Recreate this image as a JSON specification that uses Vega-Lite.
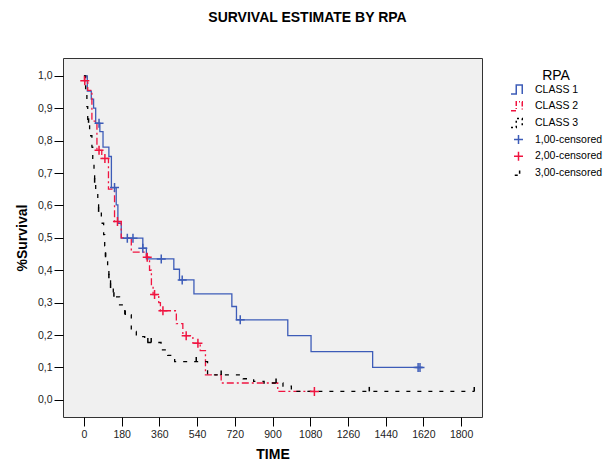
{
  "$schema": "https://vega.github.io/schema/vega-lite/v6.json",
  "width": 419,
  "height": 359,
  "autosize": "none",
  "padding": {"left": 63, "top": 58, "right": 133, "bottom": 51},
  "background": "white",
  "title": {"text": "SURVIVAL ESTIMATE BY RPA", "fontSize": 14, "fontWeight": "bold", "font": "Liberation Sans", "color": "#000", "anchor": "middle", "dx": 35, "offset": 33},
  "datasets": {
    "curves": [
      {"series": "CLASS 1", "t": 0, "s": 1.0},
      {"series": "CLASS 1", "t": 16, "s": 0.953},
      {"series": "CLASS 1", "t": 35, "s": 0.928},
      {"series": "CLASS 1", "t": 46, "s": 0.9},
      {"series": "CLASS 1", "t": 56, "s": 0.854},
      {"series": "CLASS 1", "t": 76, "s": 0.828},
      {"series": "CLASS 1", "t": 91, "s": 0.78},
      {"series": "CLASS 1", "t": 119, "s": 0.751},
      {"series": "CLASS 1", "t": 131, "s": 0.655},
      {"series": "CLASS 1", "t": 154, "s": 0.602},
      {"series": "CLASS 1", "t": 162, "s": 0.545},
      {"series": "CLASS 1", "t": 178, "s": 0.499},
      {"series": "CLASS 1", "t": 281, "s": 0.468},
      {"series": "CLASS 1", "t": 298, "s": 0.435},
      {"series": "CLASS 1", "t": 429, "s": 0.403},
      {"series": "CLASS 1", "t": 456, "s": 0.37},
      {"series": "CLASS 1", "t": 525, "s": 0.327},
      {"series": "CLASS 1", "t": 706, "s": 0.288},
      {"series": "CLASS 1", "t": 728, "s": 0.247},
      {"series": "CLASS 1", "t": 973, "s": 0.198},
      {"series": "CLASS 1", "t": 1084, "s": 0.149},
      {"series": "CLASS 1", "t": 1378, "s": 0.1},
      {"series": "CLASS 1", "t": 1617, "s": 0.1},
      {"series": "CLASS 2", "t": 0, "s": 1.0},
      {"series": "CLASS 2", "t": 2, "s": 0.985},
      {"series": "CLASS 2", "t": 18, "s": 0.955},
      {"series": "CLASS 2", "t": 38, "s": 0.86},
      {"series": "CLASS 2", "t": 62, "s": 0.77},
      {"series": "CLASS 2", "t": 85, "s": 0.745},
      {"series": "CLASS 2", "t": 117, "s": 0.65},
      {"series": "CLASS 2", "t": 146, "s": 0.55},
      {"series": "CLASS 2", "t": 178, "s": 0.5},
      {"series": "CLASS 2", "t": 226, "s": 0.456},
      {"series": "CLASS 2", "t": 298, "s": 0.44},
      {"series": "CLASS 2", "t": 313, "s": 0.4},
      {"series": "CLASS 2", "t": 322, "s": 0.35},
      {"series": "CLASS 2", "t": 330, "s": 0.325},
      {"series": "CLASS 2", "t": 357, "s": 0.3},
      {"series": "CLASS 2", "t": 365, "s": 0.275},
      {"series": "CLASS 2", "t": 441, "s": 0.235},
      {"series": "CLASS 2", "t": 472, "s": 0.198},
      {"series": "CLASS 2", "t": 520, "s": 0.175},
      {"series": "CLASS 2", "t": 555, "s": 0.152},
      {"series": "CLASS 2", "t": 580, "s": 0.077},
      {"series": "CLASS 2", "t": 655, "s": 0.052},
      {"series": "CLASS 2", "t": 925, "s": 0.026},
      {"series": "CLASS 2", "t": 1100, "s": 0.026},
      {"series": "CLASS 3", "t": 0, "s": 1.0},
      {"series": "CLASS 3", "t": 8, "s": 0.95},
      {"series": "CLASS 3", "t": 14, "s": 0.905},
      {"series": "CLASS 3", "t": 18, "s": 0.855},
      {"series": "CLASS 3", "t": 27, "s": 0.815},
      {"series": "CLASS 3", "t": 38, "s": 0.78},
      {"series": "CLASS 3", "t": 42, "s": 0.745},
      {"series": "CLASS 3", "t": 48, "s": 0.71},
      {"series": "CLASS 3", "t": 51, "s": 0.67},
      {"series": "CLASS 3", "t": 56, "s": 0.64},
      {"series": "CLASS 3", "t": 66, "s": 0.61},
      {"series": "CLASS 3", "t": 70, "s": 0.58},
      {"series": "CLASS 3", "t": 83, "s": 0.545},
      {"series": "CLASS 3", "t": 94, "s": 0.51},
      {"series": "CLASS 3", "t": 99, "s": 0.475},
      {"series": "CLASS 3", "t": 103, "s": 0.44},
      {"series": "CLASS 3", "t": 113, "s": 0.41},
      {"series": "CLASS 3", "t": 119, "s": 0.375},
      {"series": "CLASS 3", "t": 127, "s": 0.345},
      {"series": "CLASS 3", "t": 140, "s": 0.318},
      {"series": "CLASS 3", "t": 170, "s": 0.293},
      {"series": "CLASS 3", "t": 195, "s": 0.262},
      {"series": "CLASS 3", "t": 226, "s": 0.211},
      {"series": "CLASS 3", "t": 250, "s": 0.195},
      {"series": "CLASS 3", "t": 290, "s": 0.177},
      {"series": "CLASS 3", "t": 368, "s": 0.154},
      {"series": "CLASS 3", "t": 400, "s": 0.137},
      {"series": "CLASS 3", "t": 433, "s": 0.118},
      {"series": "CLASS 3", "t": 590, "s": 0.077},
      {"series": "CLASS 3", "t": 760, "s": 0.065},
      {"series": "CLASS 3", "t": 810, "s": 0.057},
      {"series": "CLASS 3", "t": 860, "s": 0.052},
      {"series": "CLASS 3", "t": 950, "s": 0.042},
      {"series": "CLASS 3", "t": 990, "s": 0.026},
      {"series": "CLASS 3", "t": 1863, "s": 0.026}
    ],
    "censored": [
      {"series": "1,00-censored", "t": 72, "s": 0.854},
      {"series": "1,00-censored", "t": 146, "s": 0.655},
      {"series": "1,00-censored", "t": 207, "s": 0.499},
      {"series": "1,00-censored", "t": 234, "s": 0.499},
      {"series": "1,00-censored", "t": 281, "s": 0.468},
      {"series": "1,00-censored", "t": 369, "s": 0.435},
      {"series": "1,00-censored", "t": 469, "s": 0.37},
      {"series": "1,00-censored", "t": 746, "s": 0.247},
      {"series": "1,00-censored", "t": 1595, "s": 0.1},
      {"series": "1,00-censored", "t": 1604, "s": 0.1},
      {"series": "2,00-censored", "t": 4, "s": 0.985},
      {"series": "2,00-censored", "t": 72, "s": 0.77},
      {"series": "2,00-censored", "t": 100, "s": 0.745},
      {"series": "2,00-censored", "t": 160, "s": 0.55},
      {"series": "2,00-censored", "t": 302, "s": 0.44},
      {"series": "2,00-censored", "t": 337, "s": 0.325},
      {"series": "2,00-censored", "t": 377, "s": 0.275},
      {"series": "2,00-censored", "t": 488, "s": 0.198},
      {"series": "2,00-censored", "t": 544, "s": 0.175},
      {"series": "2,00-censored", "t": 1100, "s": 0.026},
      {"series": "3,00-censored", "t": 22, "s": 0.855},
      {"series": "3,00-censored", "t": 51, "s": 0.67},
      {"series": "3,00-censored", "t": 70, "s": 0.58},
      {"series": "3,00-censored", "t": 103, "s": 0.44},
      {"series": "3,00-censored", "t": 119, "s": 0.375},
      {"series": "3,00-censored", "t": 127, "s": 0.345},
      {"series": "3,00-censored", "t": 143, "s": 0.318},
      {"series": "3,00-censored", "t": 197, "s": 0.262},
      {"series": "3,00-censored", "t": 305, "s": 0.177},
      {"series": "3,00-censored", "t": 321, "s": 0.177},
      {"series": "3,00-censored", "t": 536, "s": 0.118},
      {"series": "3,00-censored", "t": 655, "s": 0.077},
      {"series": "3,00-censored", "t": 917, "s": 0.052},
      {"series": "3,00-censored", "t": 1362, "s": 0.026},
      {"series": "3,00-censored", "t": 1863, "s": 0.026}
    ]
  },
  "encoding": {
    "x": {"field": "t", "type": "quantitative", "title": "TIME",
      "scale": {"domain": [-100, 1900], "nice": false, "zero": false},
      "axis": {"values": [0, 180, 360, 540, 720, 900, 1080, 1260, 1440, 1620, 1800], "format": "d"}},
    "y": {"field": "s", "type": "quantitative", "title": "%Survival",
      "scale": {"domain": [-0.053, 1.055], "nice": false, "zero": false},
      "axis": {"values": [0, 0.1, 0.2, 0.3, 0.4, 0.5, 0.6, 0.7, 0.8, 0.9, 1.0],
        "labelExpr": "replace(format(datum.value, '.1f'), '.', ',')"}},
    "color": {"field": "series", "type": "nominal",
      "scale": {"domain": ["CLASS 1", "CLASS 2", "CLASS 3", "1,00-censored", "2,00-censored", "3,00-censored"],
        "range": ["#3d5cb8", "#f01440", "#000000", "#3d5cb8", "#f01440", "#000000"]},
      "legend": {"title": "RPA", "orient": "none", "legendX": 447, "legendY": 11,
        "titleAnchor": "middle", "titleFontSize": 14, "titleFontWeight": "normal", "titleColor": "#000", "titleFont": "Liberation Sans",
        "titlePadding": -2, "labelFontSize": 10.5, "labelColor": "#000", "labelFont": "Liberation Sans", "labelOffset": 8,
        "symbolSize": 225, "rowPadding": 0.7, "padding": 0,
        "encode": {"symbols": {"update": {
          "shape": {"signal": "indexof(['CLASS 1','CLASS 2','CLASS 3'], datum.value) >= 0 ? 'M-1,0.6H-0.3V-0.6H0.5V0.6' : (datum.value == '3,00-censored' ? 'M-0.5,0.3H-0.1M0.15,-0.35V0.1' : 'M-0.6,0H0.6M0,-0.6V0.6')"},
          "strokeDash": {"signal": "datum.value == 'CLASS 2' ? [5,2,1,2] : (datum.value == 'CLASS 3' ? [2,3] : [1,0])"},
          "fill": {"value": "transparent"},
          "stroke": {"scale": "color", "field": "value"},
          "strokeWidth": {"value": 1.5},
          "opacity": {"value": 1}
        }}}}
    }
  },
  "layer": [
    {"data": {"name": "curves"},
      "mark": {"type": "line", "interpolate": "step-after", "strokeWidth": 1.3},
      "encoding": {
        "strokeDash": {"field": "series", "type": "nominal",
          "scale": {"domain": ["CLASS 1", "CLASS 2", "CLASS 3"], "range": [[1, 0], [7, 3, 2, 3], [4, 7]]},
          "legend": null},
        "order": {"field": "t", "type": "quantitative"}
      }},
    {"data": {"name": "censored"},
      "mark": {"type": "point", "filled": false, "strokeWidth": 1.5, "opacity": 1},
      "encoding": {
        "shape": {"field": "series", "type": "nominal",
          "scale": {"domain": ["1,00-censored", "2,00-censored", "3,00-censored"],
            "range": ["M-1,0H1M0,-1V1", "M-1,0H1M0,-1V1", "M0,-1V0"]},
          "legend": null},
        "size": {"field": "series", "type": "nominal",
          "scale": {"domain": ["1,00-censored", "2,00-censored", "3,00-censored"], "range": [81, 81, 49]},
          "legend": null}
      }}
  ],
  "config": {
    "font": "Liberation Sans",
    "view": {"fill": "#f0f0f0", "stroke": "#333333", "strokeWidth": 1},
    "axis": {"domain": false, "grid": false, "tickSize": 9, "tickColor": "#000", "tickWidth": 1,
      "labelFontSize": 10.5, "labelColor": "#222", "labelFont": "Liberation Sans",
      "titleFontSize": 14, "titleFontWeight": "bold", "titleColor": "#000", "titleFont": "Liberation Sans"},
    "axisX": {"labelPadding": 3, "titlePadding": 8},
    "axisY": {"labelPadding": 2, "titlePadding": 8}
  }
}
